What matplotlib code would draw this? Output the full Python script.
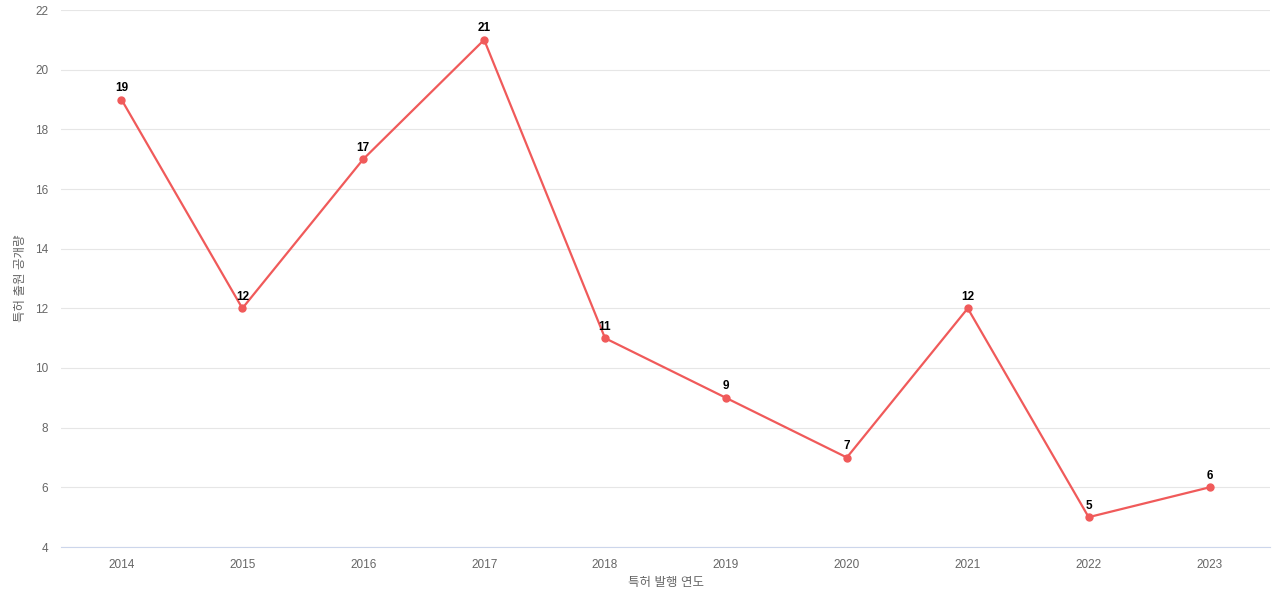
import matplotlib.pyplot as plt

plt.rcParams['font.family'] = ['Liberation Sans', 'Noto Sans CJK KR', 'DejaVu Sans']

years = ['2014', '2015', '2016', '2017', '2018', '2019', '2020', '2021', '2022', '2023']
counts = [19, 12, 17, 21, 11, 9, 7, 12, 5, 6]

fig = plt.figure(figsize=(12.8, 6), dpi=100)
ax = fig.add_axes([61/1280, 53/600, 1209/1280, 537/600])

x = list(range(len(years)))
ax.plot(x, counts, '-o', color='#f05a5a', linewidth=1.6, markersize=5)
for xi, v in zip(x, counts):
    ax.annotate(str(v), (xi, v), xytext=(0, 4), textcoords='offset points',
                ha='center', va='bottom', fontsize=8.5, fontweight='bold', color='black')

ax.set_xlim(-0.5, 9.5)
ax.set_ylim(4, 22)
ax.set_yticks(range(4, 23, 2))
ax.set_xticks(x)
ax.set_xticklabels(years)
ax.tick_params(colors='#666666', labelsize=8.5, length=0, pad=9)
ax.grid(axis='y', color='#e6e6e6', linewidth=0.8)
ax.set_axisbelow(True)
for s in ['top', 'right', 'left']:
    ax.spines[s].set_visible(False)
ax.spines['bottom'].set_color('#ccd6eb')
ax.set_xlabel('특허 발행 연도', fontsize=9, color='#666666', labelpad=4)
ax.set_ylabel('특허 출원 공개량', fontsize=9, color='#666666', labelpad=6)

fig.savefig('out.png')
